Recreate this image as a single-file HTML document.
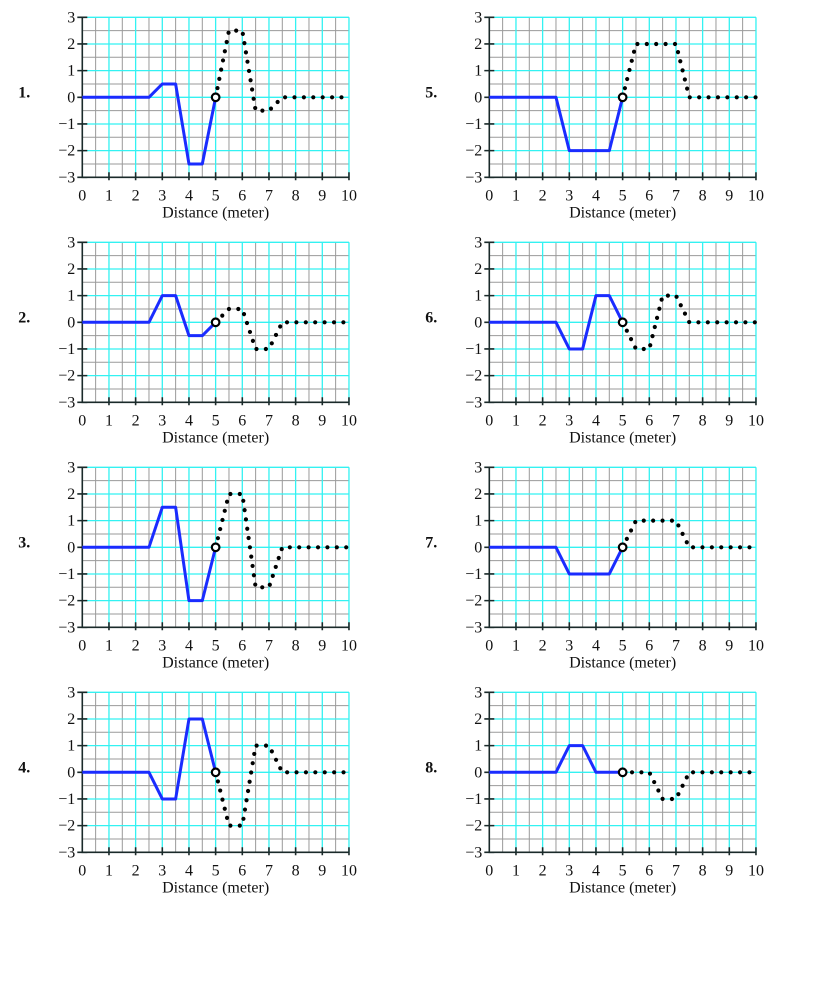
<!DOCTYPE html>
<html><head><meta charset="utf-8"><style>
html,body{margin:0;padding:0;background:#fff;}
svg{display:block;}
text{font-family:"Liberation Serif",serif;fill:#111;}
.yl{font-size:16px;text-anchor:end;}
.xl{font-size:16px;text-anchor:middle;}
.num{font-size:16px;font-weight:bold;}
.b{fill:none;stroke:#1a2cff;stroke-width:3;stroke-linejoin:round;}
.d{fill:none;stroke:#000;stroke-width:4.2;stroke-linecap:round;stroke-dasharray:0 9.4;}
.c{fill:#fff;stroke:#000;stroke-width:2.2;}
</style></head><body>
<svg width="818" height="992" viewBox="0 0 818 992" xmlns="http://www.w3.org/2000/svg">
<defs>
<g id="grid" fill="none">
 <g stroke="#9a9a9a" stroke-width="1">
  <path d="M13.33 0V160M40 0V160M66.67 0V160M93.33 0V160M120 0V160M146.67 0V160M173.33 0V160M200 0V160M226.67 0V160M253.33 0V160"/>
  <path d="M0 13.33H266.67M0 40H266.67M0 66.67H266.67M0 93.33H266.67M0 120H266.67M0 146.67H266.67"/>
 </g>
 <g stroke="#33f2f2" stroke-width="1.3">
  <path d="M26.67 0V160M53.33 0V160M80 0V160M106.67 0V160M133.33 0V160M160 0V160M186.67 0V160M213.33 0V160M240 0V160M266.67 0V160"/>
  <path d="M0 0H266.67M0 26.67H266.67M0 53.33H266.67M0 80H266.67M0 106.67H266.67M0 133.33H266.67"/>
 </g>
 <g stroke="#1a2a2a" stroke-width="1.6" fill="none">
  <path d="M0 0V160H266.67"/>
  <path d="M-5 0H5M-5 26.67H5M-5 53.33H5M-5 80H5M-5 106.67H5M-5 133.33H5M-5 160H5"/>
  <path d="M26.67 155V163M53.33 155V163M80 155V163M106.67 155V163M133.33 155V163M160 155V163M186.67 155V163M213.33 155V163M240 155V163M266.67 155V163"/>
 </g>
</g>
</defs>

<g transform="translate(82.3,17.3)">
<use href="#grid"/>
<text class="yl" x="-7" y="5">3</text><text class="yl" x="-7" y="31.7">2</text><text class="yl" x="-7" y="58.3">1</text><text class="yl" x="-7" y="85">0</text><text class="yl" x="-7" y="111.7">−1</text><text class="yl" x="-7" y="138.3">−2</text><text class="yl" x="-7" y="165">−3</text>
<text class="xl" x="0" y="183">0</text><text class="xl" x="26.67" y="183">1</text><text class="xl" x="53.33" y="183">2</text><text class="xl" x="80" y="183">3</text><text class="xl" x="106.67" y="183">4</text><text class="xl" x="133.33" y="183">5</text><text class="xl" x="160" y="183">6</text><text class="xl" x="186.67" y="183">7</text><text class="xl" x="213.33" y="183">8</text><text class="xl" x="240" y="183">9</text><text class="xl" x="266.67" y="183">10</text>
<text class="xl" x="133.33" y="200">Distance (meter)</text>
<text class="num" x="-64" y="80">1.</text>
<polyline class="b" points="0,80 66.67,80 80,66.67 93.33,66.67 106.67,146.67 120,146.67 133.33,80"/>
<polyline class="d" points="133.33,80 146.67,13.33 160,13.33 173.33,93.33 186.67,93.33 200,80 266.67,80"/>
<circle class="c" cx="133.33" cy="80" r="3.8"/>
</g>

<g transform="translate(82.3,242.3)">
<use href="#grid"/>
<text class="yl" x="-7" y="5">3</text><text class="yl" x="-7" y="31.7">2</text><text class="yl" x="-7" y="58.3">1</text><text class="yl" x="-7" y="85">0</text><text class="yl" x="-7" y="111.7">−1</text><text class="yl" x="-7" y="138.3">−2</text><text class="yl" x="-7" y="165">−3</text>
<text class="xl" x="0" y="183">0</text><text class="xl" x="26.67" y="183">1</text><text class="xl" x="53.33" y="183">2</text><text class="xl" x="80" y="183">3</text><text class="xl" x="106.67" y="183">4</text><text class="xl" x="133.33" y="183">5</text><text class="xl" x="160" y="183">6</text><text class="xl" x="186.67" y="183">7</text><text class="xl" x="213.33" y="183">8</text><text class="xl" x="240" y="183">9</text><text class="xl" x="266.67" y="183">10</text>
<text class="xl" x="133.33" y="200">Distance (meter)</text>
<text class="num" x="-64" y="80">2.</text>
<polyline class="b" points="0,80 66.67,80 80,53.33 93.33,53.33 106.67,93.33 120,93.33 133.33,80"/>
<polyline class="d" points="133.33,80 146.67,66.67 160,66.67 173.33,106.67 186.67,106.67 200,80 266.67,80"/>
<circle class="c" cx="133.33" cy="80" r="3.8"/>
</g>

<g transform="translate(82.3,467.3)">
<use href="#grid"/>
<text class="yl" x="-7" y="5">3</text><text class="yl" x="-7" y="31.7">2</text><text class="yl" x="-7" y="58.3">1</text><text class="yl" x="-7" y="85">0</text><text class="yl" x="-7" y="111.7">−1</text><text class="yl" x="-7" y="138.3">−2</text><text class="yl" x="-7" y="165">−3</text>
<text class="xl" x="0" y="183">0</text><text class="xl" x="26.67" y="183">1</text><text class="xl" x="53.33" y="183">2</text><text class="xl" x="80" y="183">3</text><text class="xl" x="106.67" y="183">4</text><text class="xl" x="133.33" y="183">5</text><text class="xl" x="160" y="183">6</text><text class="xl" x="186.67" y="183">7</text><text class="xl" x="213.33" y="183">8</text><text class="xl" x="240" y="183">9</text><text class="xl" x="266.67" y="183">10</text>
<text class="xl" x="133.33" y="200">Distance (meter)</text>
<text class="num" x="-64" y="80">3.</text>
<polyline class="b" points="0,80 66.67,80 80,40 93.33,40 106.67,133.33 120,133.33 133.33,80"/>
<polyline class="d" points="133.33,80 146.67,26.67 160,26.67 173.33,120 186.67,120 200,80 266.67,80"/>
<circle class="c" cx="133.33" cy="80" r="3.8"/>
</g>

<g transform="translate(82.3,692.3)">
<use href="#grid"/>
<text class="yl" x="-7" y="5">3</text><text class="yl" x="-7" y="31.7">2</text><text class="yl" x="-7" y="58.3">1</text><text class="yl" x="-7" y="85">0</text><text class="yl" x="-7" y="111.7">−1</text><text class="yl" x="-7" y="138.3">−2</text><text class="yl" x="-7" y="165">−3</text>
<text class="xl" x="0" y="183">0</text><text class="xl" x="26.67" y="183">1</text><text class="xl" x="53.33" y="183">2</text><text class="xl" x="80" y="183">3</text><text class="xl" x="106.67" y="183">4</text><text class="xl" x="133.33" y="183">5</text><text class="xl" x="160" y="183">6</text><text class="xl" x="186.67" y="183">7</text><text class="xl" x="213.33" y="183">8</text><text class="xl" x="240" y="183">9</text><text class="xl" x="266.67" y="183">10</text>
<text class="xl" x="133.33" y="200">Distance (meter)</text>
<text class="num" x="-64" y="80">4.</text>
<polyline class="b" points="0,80 66.67,80 80,106.67 93.33,106.67 106.67,26.67 120,26.67 133.33,80"/>
<polyline class="d" points="133.33,80 146.67,133.33 160,133.33 173.33,53.33 186.67,53.33 200,80 266.67,80"/>
<circle class="c" cx="133.33" cy="80" r="3.8"/>
</g>

<g transform="translate(489.3,17.3)">
<use href="#grid"/>
<text class="yl" x="-7" y="5">3</text><text class="yl" x="-7" y="31.7">2</text><text class="yl" x="-7" y="58.3">1</text><text class="yl" x="-7" y="85">0</text><text class="yl" x="-7" y="111.7">−1</text><text class="yl" x="-7" y="138.3">−2</text><text class="yl" x="-7" y="165">−3</text>
<text class="xl" x="0" y="183">0</text><text class="xl" x="26.67" y="183">1</text><text class="xl" x="53.33" y="183">2</text><text class="xl" x="80" y="183">3</text><text class="xl" x="106.67" y="183">4</text><text class="xl" x="133.33" y="183">5</text><text class="xl" x="160" y="183">6</text><text class="xl" x="186.67" y="183">7</text><text class="xl" x="213.33" y="183">8</text><text class="xl" x="240" y="183">9</text><text class="xl" x="266.67" y="183">10</text>
<text class="xl" x="133.33" y="200">Distance (meter)</text>
<text class="num" x="-64" y="80">5.</text>
<polyline class="b" points="0,80 66.67,80 80,133.33 93.33,133.33 106.67,133.33 120,133.33 133.33,80"/>
<polyline class="d" points="133.33,80 146.67,26.67 160,26.67 173.33,26.67 186.67,26.67 200,80 266.67,80"/>
<circle class="c" cx="133.33" cy="80" r="3.8"/>
</g>

<g transform="translate(489.3,242.3)">
<use href="#grid"/>
<text class="yl" x="-7" y="5">3</text><text class="yl" x="-7" y="31.7">2</text><text class="yl" x="-7" y="58.3">1</text><text class="yl" x="-7" y="85">0</text><text class="yl" x="-7" y="111.7">−1</text><text class="yl" x="-7" y="138.3">−2</text><text class="yl" x="-7" y="165">−3</text>
<text class="xl" x="0" y="183">0</text><text class="xl" x="26.67" y="183">1</text><text class="xl" x="53.33" y="183">2</text><text class="xl" x="80" y="183">3</text><text class="xl" x="106.67" y="183">4</text><text class="xl" x="133.33" y="183">5</text><text class="xl" x="160" y="183">6</text><text class="xl" x="186.67" y="183">7</text><text class="xl" x="213.33" y="183">8</text><text class="xl" x="240" y="183">9</text><text class="xl" x="266.67" y="183">10</text>
<text class="xl" x="133.33" y="200">Distance (meter)</text>
<text class="num" x="-64" y="80">6.</text>
<polyline class="b" points="0,80 66.67,80 80,106.67 93.33,106.67 106.67,53.33 120,53.33 133.33,80"/>
<polyline class="d" points="133.33,80 146.67,106.67 160,106.67 173.33,53.33 186.67,53.33 200,80 266.67,80"/>
<circle class="c" cx="133.33" cy="80" r="3.8"/>
</g>

<g transform="translate(489.3,467.3)">
<use href="#grid"/>
<text class="yl" x="-7" y="5">3</text><text class="yl" x="-7" y="31.7">2</text><text class="yl" x="-7" y="58.3">1</text><text class="yl" x="-7" y="85">0</text><text class="yl" x="-7" y="111.7">−1</text><text class="yl" x="-7" y="138.3">−2</text><text class="yl" x="-7" y="165">−3</text>
<text class="xl" x="0" y="183">0</text><text class="xl" x="26.67" y="183">1</text><text class="xl" x="53.33" y="183">2</text><text class="xl" x="80" y="183">3</text><text class="xl" x="106.67" y="183">4</text><text class="xl" x="133.33" y="183">5</text><text class="xl" x="160" y="183">6</text><text class="xl" x="186.67" y="183">7</text><text class="xl" x="213.33" y="183">8</text><text class="xl" x="240" y="183">9</text><text class="xl" x="266.67" y="183">10</text>
<text class="xl" x="133.33" y="200">Distance (meter)</text>
<text class="num" x="-64" y="80">7.</text>
<polyline class="b" points="0,80 66.67,80 80,106.67 93.33,106.67 106.67,106.67 120,106.67 133.33,80"/>
<polyline class="d" points="133.33,80 146.67,53.33 160,53.33 173.33,53.33 186.67,53.33 200,80 266.67,80"/>
<circle class="c" cx="133.33" cy="80" r="3.8"/>
</g>

<g transform="translate(489.3,692.3)">
<use href="#grid"/>
<text class="yl" x="-7" y="5">3</text><text class="yl" x="-7" y="31.7">2</text><text class="yl" x="-7" y="58.3">1</text><text class="yl" x="-7" y="85">0</text><text class="yl" x="-7" y="111.7">−1</text><text class="yl" x="-7" y="138.3">−2</text><text class="yl" x="-7" y="165">−3</text>
<text class="xl" x="0" y="183">0</text><text class="xl" x="26.67" y="183">1</text><text class="xl" x="53.33" y="183">2</text><text class="xl" x="80" y="183">3</text><text class="xl" x="106.67" y="183">4</text><text class="xl" x="133.33" y="183">5</text><text class="xl" x="160" y="183">6</text><text class="xl" x="186.67" y="183">7</text><text class="xl" x="213.33" y="183">8</text><text class="xl" x="240" y="183">9</text><text class="xl" x="266.67" y="183">10</text>
<text class="xl" x="133.33" y="200">Distance (meter)</text>
<text class="num" x="-64" y="80">8.</text>
<polyline class="b" points="0,80 66.67,80 80,53.33 93.33,53.33 106.67,80 120,80 133.33,80"/>
<polyline class="d" points="133.33,80 146.67,80 160,80 173.33,106.67 186.67,106.67 200,80 266.67,80"/>
<circle class="c" cx="133.33" cy="80" r="3.8"/>
</g>
</svg>
</body></html>
